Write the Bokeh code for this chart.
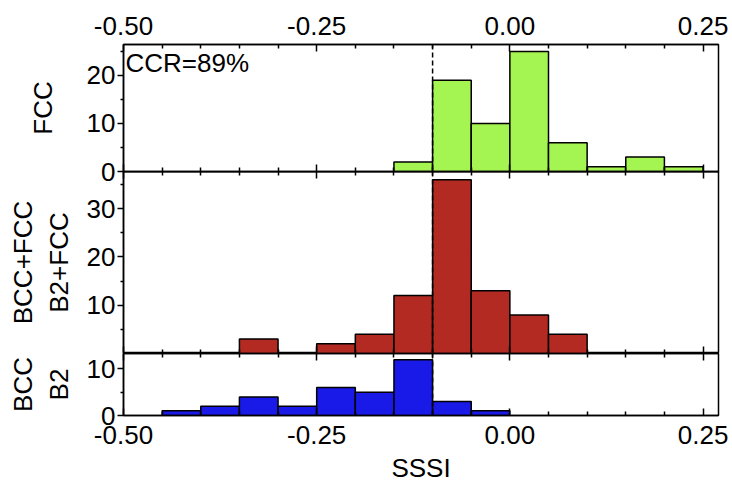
from bokeh.embed import file_html
from bokeh.layouts import column
from bokeh.models import FixedTicker, Label, LinearAxis, NumeralTickFormatter, Range1d, Span
from bokeh.plotting import figure
from bokeh.resources import INLINE

# Histogram counts of SSSI, bins of width 0.05 (left edges)
bin_width = 0.05

fcc_left = [-0.15, -0.10, -0.05, 0.00, 0.05, 0.10, 0.15, 0.20]
fcc_counts = [2, 19, 10, 25, 6, 1, 3, 1]

mixed_left = [-0.35, -0.25, -0.20, -0.15, -0.10, -0.05, 0.00, 0.05]
mixed_counts = [3, 2, 4, 12, 36, 13, 8, 4]

bcc_left = [-0.45, -0.40, -0.35, -0.30, -0.25, -0.20, -0.15, -0.10, -0.05]
bcc_counts = [1, 2, 4, 2, 6, 5, 12, 3, 1]

threshold = -0.10
ccr_text = "CCR=89%"

x_ticks = [-0.50, -0.25, 0.00, 0.25]
x_minor = [-0.45, -0.40, -0.35, -0.30, -0.20, -0.15, -0.10, -0.05,
           0.05, 0.10, 0.15, 0.20]

FONT = "Liberation Sans"
FSIZE = "26px"
LW = 1.5
OVERLAP = 14  # room below the FCC frame so its "0" label is not cut

x_range = Range1d(-0.50, 0.27)


def make_panel(height, y_end, y_ticks, y_minor, top_border, bottom_border,
               ylabel, ylabel_standoff):
    p = figure(width=732, height=height, x_range=x_range, y_range=Range1d(0, y_end),
               output_backend="svg", toolbar_location=None,
               x_axis_location=None, y_axis_location="left",
               min_border_left=123, min_border_right=14,
               min_border_top=top_border, min_border_bottom=bottom_border)
    p.grid.grid_line_color = None
    p.outline_line_color = "black"
    p.outline_line_width = LW
    p.background_fill_alpha = 0
    p.border_fill_alpha = 0

    ay = p.yaxis[0]
    ay.ticker = FixedTicker(ticks=y_ticks, minor_ticks=y_minor)
    ay.axis_line_color = "black"
    ay.axis_line_width = LW
    ay.major_tick_line_width = LW
    ay.minor_tick_line_width = LW
    ay.major_tick_in = 0
    ay.major_tick_out = 6
    ay.minor_tick_in = 0
    ay.minor_tick_out = 3
    ay.major_label_standoff = 2
    ay.major_label_text_font = FONT
    ay.major_label_text_font_size = FSIZE
    ay.major_label_text_color = "black"
    ay.axis_label = ylabel
    ay.axis_label_text_font = FONT
    ay.axis_label_text_font_size = FSIZE
    ay.axis_label_text_font_style = "normal"
    ay.axis_label_text_color = "black"
    ay.axis_label_standoff = ylabel_standoff
    return p


def add_x_axis(p, place, with_labels, axis_label=None):
    ax = LinearAxis(ticker=FixedTicker(ticks=x_ticks, minor_ticks=x_minor),
                    formatter=NumeralTickFormatter(format="0.00"))
    ax.axis_line_color = "black"
    ax.axis_line_width = LW
    ax.major_tick_line_width = LW
    ax.minor_tick_line_width = LW
    ax.major_tick_in = 7
    ax.major_tick_out = 0
    ax.minor_tick_in = 4
    ax.minor_tick_out = 0
    if with_labels:
        ax.major_label_text_font = FONT
        ax.major_label_text_font_size = FSIZE
        ax.major_label_text_color = "black"
        ax.major_label_standoff = 10
    else:
        # separator axis: ticks only
        ax.major_label_text_color = None
        ax.major_label_text_font_size = "0px"
        ax.major_label_standoff = 0
    if axis_label:
        ax.axis_label = axis_label
        ax.axis_label_text_font = FONT
        ax.axis_label_text_font_size = FSIZE
        ax.axis_label_text_font_style = "normal"
        ax.axis_label_text_color = "black"
        ax.axis_label_standoff = 6
    p.add_layout(ax, place)


def add_bars(p, lefts, counts, color):
    rights = [l + bin_width for l in lefts]
    p.quad(left=lefts, right=rights, bottom=0, top=counts,
           fill_color=color, line_color="black", line_width=LW)
    p.add_layout(Span(location=threshold, dimension="height", line_color="black",
                      line_width=LW, line_dash="5 3"))


# FCC
p1 = make_panel(171 + OVERLAP, 26.45, [0, 10, 20], [5, 15, 25], 44, OVERLAP,
                "FCC", 26)
add_x_axis(p1, "above", True)
add_x_axis(p1, "below", False)
add_bars(p1, fcc_left, fcc_counts, "#a4f552")
p1.add_layout(Label(x=-0.5, y=25.8, x_offset=2, text=ccr_text,
                    text_align="left", text_baseline="top",
                    text_font=FONT, text_font_size=FSIZE, text_color="black"))

# BCC+FCC / B2+FCC
p2 = make_panel(182, 37.7, [10, 20, 30], [5, 15, 25, 35], 0, 0,
                "BCC+FCC\nB2+FCC", 10)
add_x_axis(p2, "above", False)
add_x_axis(p2, "below", False)
add_bars(p2, mixed_left, mixed_counts, "#b22a22")
p2.styles = {"margin-top": f"-{OVERLAP}px"}

# BCC / B2
p3 = make_panel(132, 13.33, [0, 10], [5], 0, 68, "BCC\nB2", 10)
add_x_axis(p3, "above", False)
add_x_axis(p3, "below", True, "SSSI")
add_bars(p3, bcc_left, bcc_counts, "#1a1ae8")

layout = column(p1, p2, p3, spacing=0)
layout.styles = {"background-color": "white"}

open("out.html", "w").write(file_html(layout, INLINE))
